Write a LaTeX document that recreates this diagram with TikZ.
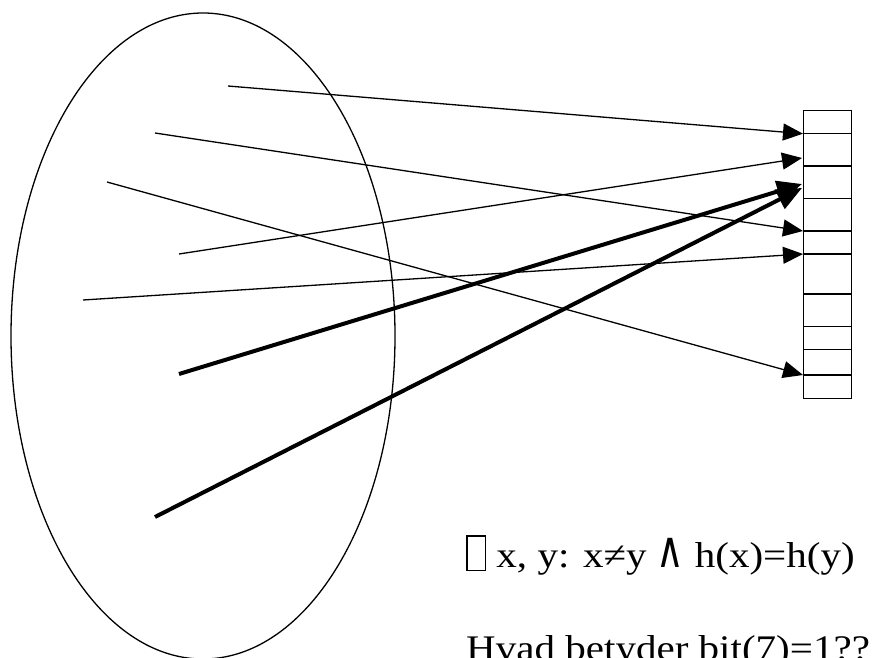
\documentclass[tikz,border=0pt]{standalone}
\usepackage{fontspec}
\setmainfont{Liberation Serif}
\newfontfamily\txtfont[FakeStretch=1.14]{Liberation Serif}
\newfontfamily\symfont{DejaVu Sans}
\usetikzlibrary{arrows.meta,shapes.geometric}
\begin{document}
\begin{tikzpicture}[x=1pt,y=-1pt,
  thinarrow/.style={line width=1.3pt,-{Triangle[length=20pt,width=17pt]}},
  thickarrow/.style={line width=4pt,-{Triangle[length=25pt,width=21pt]}},
  cellline/.style={line width=1.4pt},
  label/.style={font=\txtfont\fontsize{36}{40}\selectfont,inner sep=0pt,anchor=base west}]
\useasboundingbox (0,0) rectangle (878,658);
% the set
\node[draw,ellipse,line width=1.3pt,minimum width=384pt,minimum height=646pt,inner sep=0pt] (set) at (203,336) {};
% the table
\node[draw,cellline,minimum width=48pt,minimum height=288pt,inner sep=0pt,anchor=north west] (tab) at (803,110) {};
\foreach \y [count=\i] in {133.7,166,198.7,231,254,294,326.7,349.7,375}
  \draw[cellline] (803,\y) coordinate (r\i) -- (851,\y);
% start points
\coordinate (s1) at (228,86);
\coordinate (s2) at (155,133);
\coordinate (s3) at (107,182);
\coordinate (s4) at (179,254);
\coordinate (s5) at (83,300);
\coordinate (s6) at (179,374);
\coordinate (s7) at (155,517);
\coordinate (t4) at (802,158);
\coordinate (t6) at (802,184);
\coordinate (t7) at (802,188);
\draw[thinarrow] (s1) -- (r1);
\draw[thinarrow] (s2) -- (r4);
\draw[thinarrow] (s3) -- (r9);
\draw[thinarrow] (s4) -- (t4);
\draw[thinarrow] (s5) -- (r5);
\draw[thickarrow] (s6) -- (t6);
\draw[thickarrow] (s7) -- (t7);
% texts
\node[label] (q1) at (466,567) {\setlength\fboxsep{0pt}\setlength\fboxrule{1.3pt}\fbox{\rule[-3pt]{0pt}{33.4pt}\hspace{17.4pt}} x, y: x≠y \scalebox{1.05}[1.4]{\symfont ∧} h(x)=h(y)};
\node[label] (q2) at (466,660) {Hvad betyder bit(7)=1??};
\end{tikzpicture}
\end{document}
